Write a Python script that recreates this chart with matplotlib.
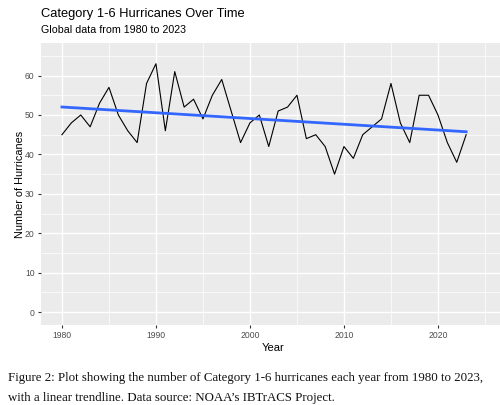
import matplotlib
matplotlib.use("Agg")
import matplotlib.pyplot as plt
import numpy as np
from matplotlib.ticker import MultipleLocator

years = list(range(1980, 2024))
counts = [45, 48, 50, 47, 53, 57, 50, 46, 43, 58,
          63, 46, 61, 52, 54, 49, 55, 59, 51, 43,
          48, 50, 42, 51, 52, 55, 44, 45, 42, 35,
          42, 39, 45, 47, 49, 58, 48, 43, 55, 55,
          50, 43, 38, 45]

title = "Category 1-6 Hurricanes Over Time"
subtitle = "Global data from 1980 to 2023"
xlabel = "Year"
ylabel = "Number of Hurricanes"
caption1 = "Figure 2: Plot showing the number of Category 1-6 hurricanes each year from 1980 to 2023,"
caption2 = "with a linear trendline. Data source: NOAA\u2019s IBTrACS Project."

plt.rcParams["font.family"] = ["Liberation Sans", "DejaVu Sans"]

W, H = 500, 405
fig = plt.figure(figsize=(W / 100, H / 100), dpi=100)
ax = fig.add_axes([40.8 / W, 80 / H, 465.3 / W, 282 / H])
ax.set_facecolor("#EBEBEB")
for s in ax.spines.values():
    s.set_visible(False)

ax.set_xlim(1977.75, 2027.25)
ax.set_ylim(-3.25, 68.25)
ax.xaxis.set_major_locator(MultipleLocator(10))
ax.xaxis.set_minor_locator(MultipleLocator(5))
ax.yaxis.set_major_locator(MultipleLocator(10))
ax.yaxis.set_minor_locator(MultipleLocator(5))
ax.grid(which="major", color="white", linewidth=1.0)
ax.grid(which="minor", color="white", linewidth=0.5)
ax.set_axisbelow(True)
ax.tick_params(which="major", length=2.5, width=0.8, color="#333333",
               labelcolor="#4D4D4D", labelsize=6.2, pad=2)
ax.tick_params(which="minor", length=0)

x = np.array(years, dtype=float)
y = np.array(counts, dtype=float)
ax.plot(x, y, color="black", linewidth=0.8)
slope, intercept = np.polyfit(x, y, 1)
ax.plot(x, slope * x + intercept, color="#3366FF", linewidth=2.0)

ax.set_xlabel(xlabel, fontsize=8, color="black", labelpad=2)
ax.set_ylabel(ylabel, fontsize=7.8, color="black", labelpad=-0.5)

fig.text(40.8 / W, 1 - 17 / H, title, fontsize=9.3, color="black",
         ha="left", va="baseline")
fig.text(40.8 / W, 1 - 33 / H, subtitle, fontsize=7.7, color="black",
         ha="left", va="baseline")

fig.text(8 / W, 1 - 381.5 / H, caption1, fontsize=9.3, family="Liberation Serif",
         color="#111111", ha="left", va="baseline")
fig.text(8 / W, 1 - 401 / H, caption2, fontsize=9.3, family="Liberation Serif",
         color="#111111", ha="left", va="baseline")

fig.savefig("out.png", dpi=100)
